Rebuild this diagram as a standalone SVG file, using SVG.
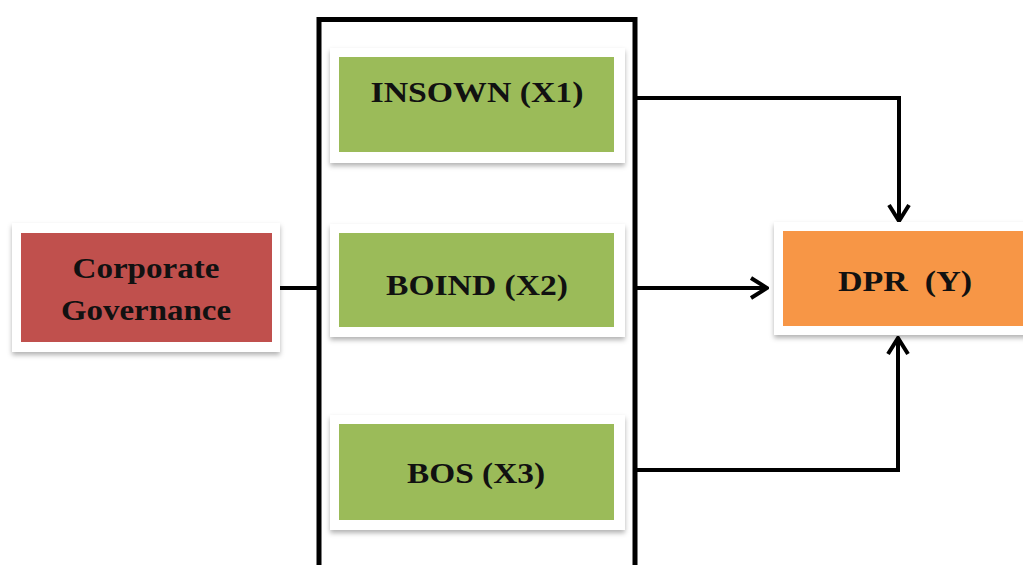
<svg xmlns="http://www.w3.org/2000/svg" width="1023" height="565" viewBox="0 0 1023 565">
<style>
.card{fill:#ffffff;filter:url(#sh)}
.lbl{font-family:"Liberation Serif","Times New Roman",serif;font-weight:bold;font-size:30px;fill:#111111;text-anchor:middle}
.con{fill:none;stroke:#000000;stroke-width:4;stroke-linejoin:miter}
</style>
<defs>
<filter id="sh" x="-10%" y="-10%" width="120%" height="130%">
<feDropShadow dx="0" dy="3" stdDeviation="2.5" flood-color="#000000" flood-opacity="0.3"/>
</filter>
<marker id="ah" viewBox="0 0 20 24" refX="18" refY="12" markerWidth="20" markerHeight="24" markerUnits="userSpaceOnUse" orient="auto">
<path d="M2,2 L18,12 L2,22" fill="none" stroke="#000000" stroke-width="4"/>
</marker>
</defs>
<rect x="0" y="0" width="1023" height="565" fill="#ffffff"/>
<rect x="319" y="19.5" width="316" height="560" fill="none" stroke="#000000" stroke-width="5"/>
<g id="connectors">
<line class="con" x1="276" y1="288" x2="319" y2="288"/>
<path class="con" d="M637,98 L899,98 L899,221" marker-end="url(#ah)"/>
<path class="con" d="M637,288 L767,288" marker-end="url(#ah)"/>
<path class="con" d="M637,470 L898,470 L898,338" marker-end="url(#ah)"/>
</g>
<g id="corporate-governance">
<rect class="card" x="12" y="223" width="268" height="129"/>
<rect x="21" y="233" width="251" height="109" fill="#C0504D"/>
<text class="lbl" x="146" y="278" textLength="147" lengthAdjust="spacingAndGlyphs">Corporate</text>
<text class="lbl" x="146" y="320" textLength="170" lengthAdjust="spacingAndGlyphs">Governance</text>
</g>
<g id="insown">
<rect class="card" x="330" y="48" width="295" height="115"/>
<rect x="339" y="57" width="275" height="95" fill="#9BBB59"/>
<text class="lbl" x="477" y="102" textLength="213" lengthAdjust="spacingAndGlyphs">INSOWN (X1)</text>
</g>
<g id="boind">
<rect class="card" x="330" y="224" width="295" height="113"/>
<rect x="339" y="233" width="275" height="94" fill="#9BBB59"/>
<text class="lbl" x="477" y="295" textLength="182" lengthAdjust="spacingAndGlyphs">BOIND (X2)</text>
</g>
<g id="bos">
<rect class="card" x="330" y="415" width="295" height="115"/>
<rect x="339" y="424" width="275" height="96" fill="#9BBB59"/>
<text class="lbl" x="476" y="483" textLength="138" lengthAdjust="spacingAndGlyphs">BOS (X3)</text>
</g>
<g id="dpr">
<rect class="card" x="774" y="222" width="260" height="113"/>
<rect x="783" y="231" width="250" height="95" fill="#F79646"/>
<text class="lbl" x="905" y="291" textLength="134" lengthAdjust="spacingAndGlyphs" xml:space="preserve">DPR  (Y)</text>
</g>
</svg>
